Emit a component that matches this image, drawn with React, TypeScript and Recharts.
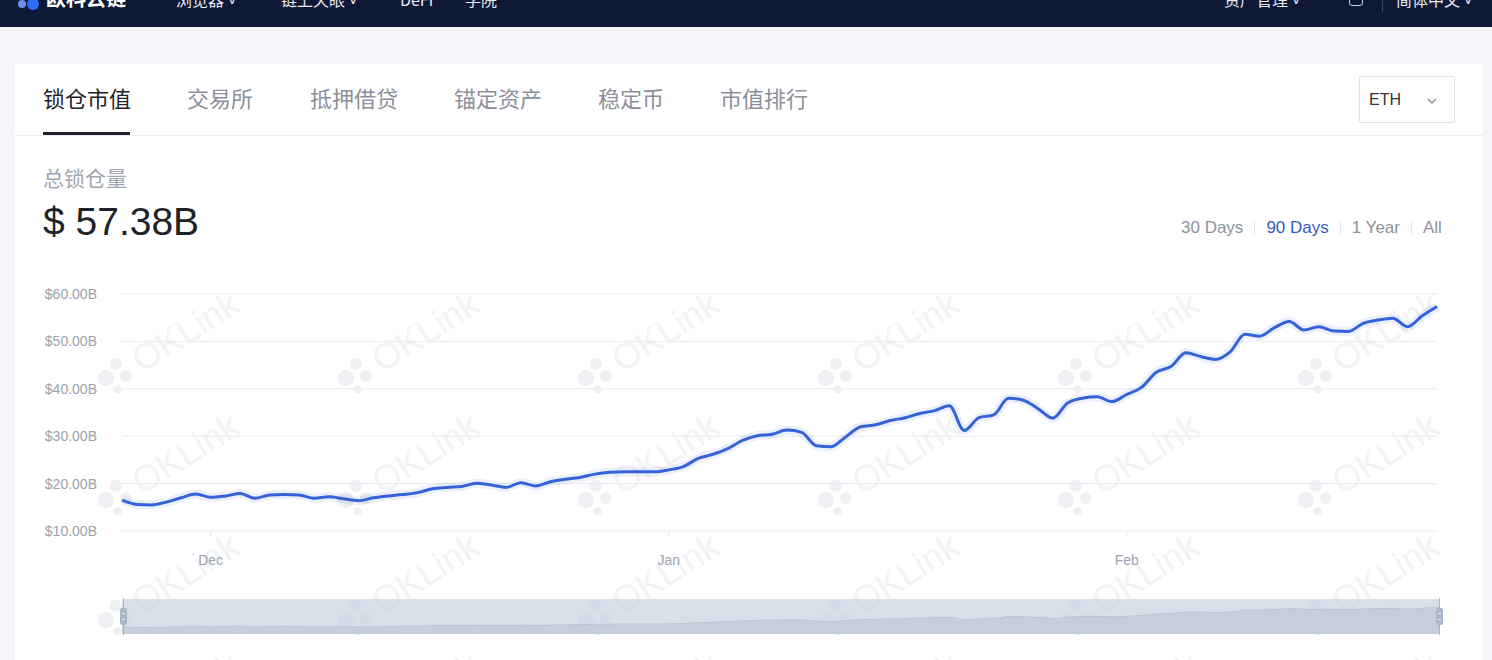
import React from 'react';
import { LineChart, Line, XAxis, YAxis, CartesianGrid, AreaChart, Area } from 'recharts';

// Total value locked, USD billions, daily, Nov 25 .. Feb 22
const tvl = [
  16.5, 15.6, 15.5, 16.1, 17.0, 17.8, 17.1, 17.4, 17.9, 16.9,
  17.6, 17.7, 17.6, 16.9, 17.2, 16.8, 16.4, 17.0, 17.4, 17.7,
  18.1, 18.9, 19.2, 19.4, 20.1, 19.7, 19.2, 20.2, 19.5, 20.4,
  20.9, 21.3, 22.0, 22.4, 22.5, 22.5, 22.5, 22.9, 23.6, 25.3,
  26.2, 27.4, 29.1, 30.1, 30.4, 31.3, 30.8, 28.0, 27.8, 29.9,
  32.0, 32.4, 33.3, 33.9, 34.8, 35.4, 36.4, 31.2, 33.9, 34.5,
  38.0, 37.6, 35.8, 33.8, 37.0, 38.0, 38.3, 37.3, 38.8, 40.3,
  43.5, 44.7, 47.6, 46.8, 46.2, 47.8, 51.5, 51.1, 52.9, 54.2,
  52.4, 53.1, 52.2, 52.1, 53.8, 54.5, 54.9, 53.1, 55.4, 57.38,
];

const monthSpans: [string, number, number][] = [
  ['11', 25, 30],
  ['12', 1, 31],
  ['01', 1, 31],
  ['02', 1, 22],
];
const dates: string[] = [];
monthSpans.forEach(([m, a, b]) => {
  for (let d = a; d <= b; d++) dates.push(`${m}-${String(d).padStart(2, '0')}`);
});

const xTicks = ['12-01', '01-01', '02-01'];
const xTickLabels = ['Dec', 'Jan', 'Feb'];
const yTicks = [10, 20, 30, 40, 50, 60];

const tabs = ['锁仓市值', '交易所', '抵押借贷', '锚定资产', '稳定币', '市值排行'];
const tabX = [43, 187, 310, 454, 598, 720];
const ranges = ['30 Days', '90 Days', '1 Year', 'All'];
const navLeft = ['浏览器 ˅', '链上天眼 ˅', 'DeFi', '学院'];
const navLeftX = [176, 281, 400, 465];

const data = dates.map((date, i) => ({ date, tvl: tvl[i] }));

const FONT = '"Liberation Sans", Arial, "Noto Sans CJK SC", sans-serif';
const CJK = '"Noto Sans CJK SC", "Liberation Sans", sans-serif';

const wmCols = [185, 425, 665, 905, 1145, 1385];
const wmRows = [331, 453, 573, 693];

function Watermarks() {
  const items: JSX.Element[] = [];
  wmRows.forEach((cy, r) =>
    wmCols.forEach((cx, c) => {
      items.push(
        <g key={`${r}-${c}`} transform={`translate(${cx},${cy}) rotate(-32)`}>
          <circle cx={-92} cy={-2} r={8} fill="#eef0f4" />
          <circle cx={-76} cy={-9} r={6} fill="#eef0f4" />
          <circle cx={-74} cy={7} r={6} fill="#eef0f4" />
          <circle cx={-88} cy={14} r={4} fill="#eef0f4" />
          <text x={0} y={13} textAnchor="middle" fontSize={36} fontFamily={FONT} fill="#f2f3f6">
            OKLink
          </text>
        </g>
      );
    })
  );
  return (
    <svg width={1468} height={400} viewBox="0 270 1468 400" style={{ position: 'absolute', left: 0, top: 270 }}>
      {items}
    </svg>
  );
}

export default function App() {
  return (
    <div
      style={{
        position: 'fixed',
        left: 0,
        top: 0,
        width: 1492,
        height: 660,
        overflow: 'hidden',
        background: '#f4f6f9',
        fontFamily: FONT,
      }}
    >
      {/* nav bar */}
      <div style={{ position: 'absolute', left: 0, top: 0, width: 1492, height: 27, background: '#0f1936', overflow: 'hidden' }}>
        <svg width={24} height={14} style={{ position: 'absolute', left: 17, top: 0 }}>
          <circle cx={5} cy={4} r={4} fill="#6e8ff0" />
          <circle cx={16} cy={4} r={6} fill="#2f6bff" />
        </svg>
        <div style={{ position: 'absolute', left: 46, top: -16, fontSize: 20, fontWeight: 700, color: '#fff', fontFamily: CJK, lineHeight: '28px' }}>
          欧科云链
        </div>
        {navLeft.map((t, i) => (
          <div key={t} style={{ position: 'absolute', left: navLeftX[i], top: -13, fontSize: 16, color: '#e8ebf2', fontFamily: CJK, lineHeight: '24px', whiteSpace: 'nowrap' }}>
            {t}
          </div>
        ))}
        <div style={{ position: 'absolute', left: 1224, top: -13, fontSize: 16, color: '#e8ebf2', fontFamily: CJK, lineHeight: '24px', whiteSpace: 'nowrap' }}>
          资产管理 ˅
        </div>
        <div style={{ position: 'absolute', left: 1349, top: -6, width: 14, height: 12, border: '1.5px solid #c9cfdc', borderRadius: 3, boxSizing: 'border-box' }} />
        <div style={{ position: 'absolute', left: 1382, top: 0, width: 1, height: 12, background: '#3a4460' }} />
        <div style={{ position: 'absolute', left: 1396, top: -13, fontSize: 16, color: '#e8ebf2', fontFamily: CJK, lineHeight: '24px', whiteSpace: 'nowrap' }}>
          简体中文 ˅
        </div>
      </div>

      {/* card */}
      <div style={{ position: 'absolute', left: 15, top: 64, width: 1468, height: 620, background: '#fff' }} />
      <div style={{ position: 'absolute', left: 15, top: 135, width: 1468, height: 1, background: '#eceef2' }} />

      {tabs.map((t, i) => (
        <div
          key={t}
          style={{
            position: 'absolute',
            left: tabX[i],
            top: 82,
            fontSize: 22,
            lineHeight: '30px',
            fontFamily: CJK,
            color: i === 0 ? '#1f2329' : '#8b909a',
            whiteSpace: 'nowrap',
          }}
        >
          {t}
        </div>
      ))}
      <div style={{ position: 'absolute', left: 43, top: 132, width: 87, height: 3, background: '#1f2329' }} />

      {/* ETH select */}
      <div style={{ position: 'absolute', left: 1359, top: 76, width: 96, height: 47, border: '1px solid #dfe2e8', boxSizing: 'border-box', borderRadius: 2 }}>
        <div style={{ position: 'absolute', left: 9, top: 13, fontSize: 16, color: '#333', lineHeight: '20px' }}>ETH</div>
        <svg width={10} height={6} style={{ position: 'absolute', left: 67, top: 21 }}>
          <polyline points="1,1 5,5 9,1" fill="none" stroke="#8a8f99" strokeWidth={1.4} />
        </svg>
      </div>

      {/* title */}
      <div style={{ position: 'absolute', left: 43, top: 163, fontSize: 21, lineHeight: '28px', color: '#a2a7b1', fontFamily: CJK }}>总锁仓量</div>
      <div style={{ position: 'absolute', left: 43, top: 200, fontSize: 39, lineHeight: '44px', color: '#1f2329', whiteSpace: 'nowrap' }}>$ 57.38B</div>

      {/* range selector */}
      <div style={{ position: 'absolute', left: 1181, top: 217, display: 'flex', alignItems: 'center', fontSize: 17, lineHeight: '22px', whiteSpace: 'nowrap' }}>
        {ranges.map((r, i) => (
          <React.Fragment key={r}>
            {i > 0 && <div style={{ width: 1, height: 14, background: '#e2e4e9', margin: '0 11px' }} />}
            <span style={{ color: i === 1 ? '#3658c4' : '#8d929c' }}>{r}</span>
          </React.Fragment>
        ))}
      </div>

      <Watermarks />

      {/* main chart */}
      <div style={{ position: 'absolute', left: 0, top: 270 }}>
        <LineChart width={1492} height={300} data={data} margin={{ top: 24, right: 55, bottom: 9, left: 0 }}>
          <CartesianGrid horizontal vertical={false} stroke="#e9ebef" />
          <XAxis
            dataKey="date"
            ticks={xTicks}
            interval={0}
            tickFormatter={(v: string) => xTickLabels[xTicks.indexOf(v)]}
            axisLine={false}
            tickLine={{ stroke: '#e3e6eb' }}
            tickSize={5}
            tickMargin={19}
            height={30}
            tick={{ fill: '#9ba1ab', fontSize: 14, fontFamily: FONT }}
          />
          <YAxis
            domain={[10, 60]}
            ticks={yTicks}
            interval={0}
            tickFormatter={(v: number) => `$${v.toFixed(2)}B`}
            axisLine={false}
            tickLine={false}
            tickSize={0}
            tickMargin={25}
            width={122}
            tick={{ fill: '#9ba1ab', fontSize: 14, fontFamily: FONT }}
          />
          <Line type="monotone" dataKey="tvl" stroke="#3662d8" strokeOpacity={0.1} strokeWidth={9} dot={false} activeDot={false} isAnimationActive={false} />
          <Line type="monotone" dataKey="tvl" stroke="#3662d8" strokeWidth={3} dot={false} activeDot={false} isAnimationActive={false} />
        </LineChart>
      </div>

      {/* data zoom panorama */}
      <div style={{ position: 'absolute', left: 122, top: 599, width: 1318, height: 35, background: 'rgba(200,210,224,0.7)' }}>
        <AreaChart width={1318} height={35} data={data} margin={{ top: 0, right: 0, bottom: 0, left: 0 }}>
          <XAxis dataKey="date" hide />
          <YAxis domain={[2, 74]} hide />
          <Area type="monotone" dataKey="tvl" stroke="#bcc6d3" strokeWidth={1} fill="#c3ccd8" fillOpacity={0.9} dot={false} activeDot={false} isAnimationActive={false} />
        </AreaChart>
      </div>
      {[123, 1439].map((x) => (
        <React.Fragment key={x}>
          <div style={{ position: 'absolute', left: x, top: 598, width: 1, height: 37, background: '#a9b5c6' }} />
          <div style={{ position: 'absolute', left: x - 3, top: 608, width: 7, height: 17, background: '#a9b6c8', borderRadius: 2 }}>
            <div style={{ position: 'absolute', left: 2, top: 5, width: 3, height: 1, background: '#e8edf3' }} />
            <div style={{ position: 'absolute', left: 2, top: 11, width: 3, height: 1, background: '#e8edf3' }} />
          </div>
        </React.Fragment>
      ))}
    </div>
  );
}
